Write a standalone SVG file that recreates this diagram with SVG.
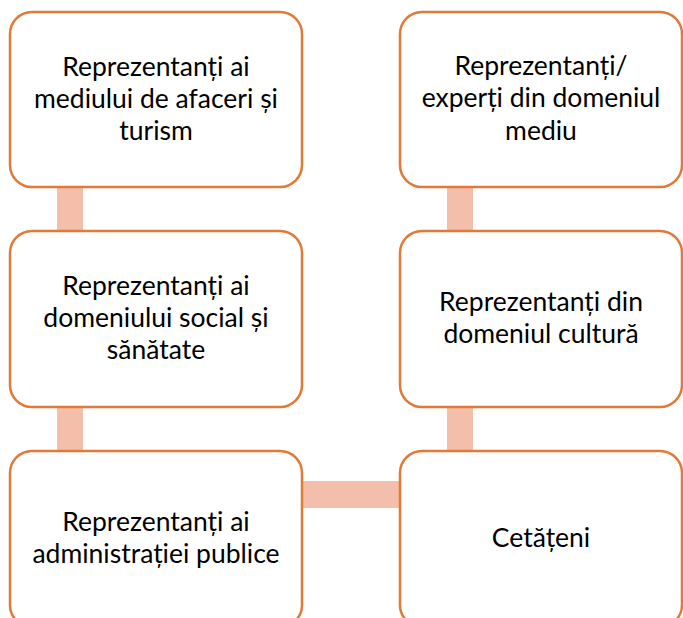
<svg xmlns="http://www.w3.org/2000/svg" width="683" height="618" viewBox="0 0 683 618">
<style>
.box{fill:#fff;stroke:#E07A36;stroke-width:2.5}
.conn{fill:#F4BFAA}
text{font-family:Lato,"Liberation Sans",sans-serif;font-size:26.5px;fill:#000;text-anchor:middle}
</style>
<rect width="683" height="618" fill="#fff"/>
<g id="connectors">
<rect class="conn" x="57" y="186" width="26" height="47"/>
<rect class="conn" x="57" y="406" width="26" height="47"/>
<rect class="conn" x="447" y="186" width="26" height="47"/>
<rect class="conn" x="447" y="406" width="26" height="47"/>
<rect class="conn" x="301" y="481" width="101" height="27"/>
</g>
<g id="n1">
<rect class="box" x="10" y="12" width="292" height="175" rx="22"/>
<text x="156" y="76">Reprezentanți ai</text>
<text x="156" y="108">mediului de afaceri și</text>
<text x="156" y="140">turism</text>
</g>
<g id="n2">
<rect class="box" x="10" y="231" width="292" height="176" rx="22"/>
<text x="156" y="295">Reprezentanți ai</text>
<text x="156" y="327">domeniului social și</text>
<text x="156" y="359">sănătate</text>
</g>
<g id="n3">
<rect class="box" x="10" y="451" width="292" height="176" rx="22"/>
<text x="156" y="531">Reprezentanți ai</text>
<text x="156" y="563">administrației publice</text>
</g>
<g id="n4">
<rect class="box" x="400" y="12" width="282" height="175" rx="22"/>
<text x="541" y="75">Reprezentanți/</text>
<text x="541" y="107">experți din domeniul</text>
<text x="541" y="140">mediu</text>
</g>
<g id="n5">
<rect class="box" x="400" y="231" width="282" height="176" rx="22"/>
<text x="541" y="311">Reprezentanți din</text>
<text x="541" y="343">domeniul cultură</text>
</g>
<g id="n6">
<rect class="box" x="400" y="451" width="282" height="176" rx="22"/>
<text x="541" y="547">Cetățeni</text>
</g>
</svg>
